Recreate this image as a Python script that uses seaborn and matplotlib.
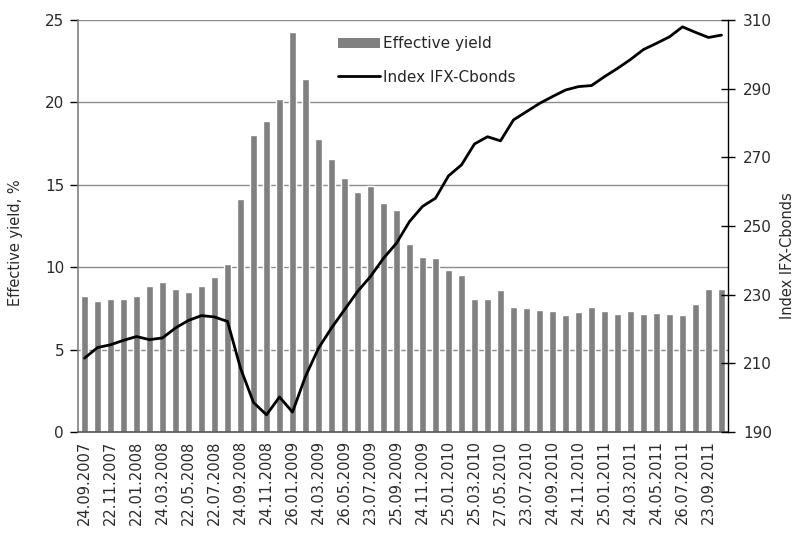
import numpy as np
import pandas as pd
import matplotlib
matplotlib.use("Agg")
import matplotlib.pyplot as plt
import seaborn as sns
from matplotlib.patches import Patch
from matplotlib.lines import Line2D

# Monthly observations, Sep 2007 - Oct 2011
effective_yield = [
    8.27, 7.92, 8.08, 8.08, 8.27, 8.87, 9.09, 8.69, 8.51, 8.87,
    9.38, 10.2, 14.15, 18.03, 18.88, 20.21, 24.27, 21.4, 17.79, 16.59,
    15.42, 14.57, 14.94, 13.92, 13.48, 11.38, 10.63, 10.55, 9.86, 9.52,
    8.08, 8.08, 8.59, 7.6, 7.5, 7.42, 7.32, 7.07, 7.26, 7.58,
    7.32, 7.15, 7.32, 7.15, 7.24, 7.15, 7.07, 7.76, 8.69, 8.69,
]
index_ifx = [
    211.5, 214.6, 215.4, 216.7, 217.8, 216.9, 217.4, 220.3, 222.5, 223.9,
    223.5, 222.2, 208.6, 198.6, 195.0, 200.2, 195.8, 206.2, 214.4, 220.3,
    225.6, 230.9, 235.3, 240.6, 245.0, 251.3, 255.7, 258.1, 264.6, 267.8,
    273.9, 276.0, 274.8, 280.9, 283.3, 285.7, 287.7, 289.6, 290.6, 290.9,
    293.5, 295.9, 298.5, 301.4, 303.2, 305.1, 308.0, 306.4, 304.9, 305.6,
]
# Date labels shown under every second bar
tick_labels = [
    "24.09.2007", "22.11.2007", "22.01.2008", "24.03.2008", "22.05.2008",
    "22.07.2008", "24.09.2008", "24.11.2008", "26.01.2009", "24.03.2009",
    "26.05.2009", "23.07.2009", "25.09.2009", "24.11.2009", "25.01.2010",
    "25.03.2010", "27.05.2010", "23.07.2010", "24.09.2010", "24.11.2010",
    "25.01.2011", "24.03.2011", "24.05.2011", "26.07.2011", "23.09.2011",
]

df = pd.DataFrame({
    "pos": np.arange(len(effective_yield)),
    "yield": effective_yield,
    "index": index_ifx,
})

sns.set_style("white")
plt.rcParams["font.family"] = ["DejaVu Sans"]

fig = plt.figure(figsize=(8, 5.33), dpi=100)
ax = fig.add_axes([0.0975, 0.1895, 0.8125, 0.773])

bar_col = "#808080"
text_col = "#2a2a2a"
sns.barplot(data=df, x="pos", y="yield", color=bar_col, width=0.55,
            saturation=1, ax=ax, zorder=2)
ax.set_xlim(-0.5, len(df) - 0.5)
ax.set_ylim(0, 25)
ax.set_yticks([0, 5, 10, 15, 20, 25])
ax.yaxis.grid(True, color="#8c8c8c", linewidth=1.0, zorder=0)
ax.set_axisbelow(True)

# category ticks at bar boundaries, labels on every second bar
ax.set_xticks(np.arange(0, len(df), 2))
ax.set_xticklabels(tick_labels, rotation=90, fontsize=10.5, color=text_col)
ax.set_xticks(np.arange(-0.5, len(df) + 0.5, 1), minor=True)
ax.tick_params(axis="x", which="major", length=0, pad=6)
ax.tick_params(axis="x", which="minor", length=10, direction="inout",
               width=1, color="black")
ax.tick_params(axis="y", length=6, direction="out", width=1, color="black",
               labelsize=11, labelcolor=text_col, pad=4)
ax.set_xlabel("")
ax.set_ylabel("")

for side in ["top", "right"]:
    ax.spines[side].set_visible(False)
ax.spines["left"].set_color("#808080")
ax.spines["left"].set_linewidth(1.2)
ax.spines["bottom"].set_color("#555555")
ax.spines["bottom"].set_linewidth(1.2)

ax2 = ax.twinx()
sns.lineplot(data=df, x="pos", y="index", color="black", linewidth=2.0,
             ax=ax2, zorder=3)
ax2.set_ylim(190, 310)
ax2.set_yticks([190, 210, 230, 250, 270, 290, 310])
ax2.set_xlim(-0.5, len(df) - 0.5)
ax2.set_ylabel("")
ax2.tick_params(axis="y", length=10, direction="inout", width=1,
                color="black", labelsize=11, labelcolor=text_col, pad=6)
for side in ["top", "left", "bottom"]:
    ax2.spines[side].set_visible(False)
ax2.spines["right"].set_color("black")
ax2.spines["right"].set_linewidth(1.0)

fig.text(0.02, 0.545, "Effective yield, %", rotation=90, ha="center",
         va="center", fontsize=10.5, color=text_col)
fig.text(0.984, 0.52, "Index IFX-Cbonds", rotation=90, ha="center",
         va="center", fontsize=10.5, color=text_col)

handles = [Patch(facecolor=bar_col, edgecolor="none", label="Effective yield"),
           Line2D([0], [0], color="black", linewidth=2.0, label="Index IFX-Cbonds")]
ax2.legend(handles=handles, loc="upper left", bbox_to_anchor=(0.39, 0.975),
           frameon=False, fontsize=11, handlelength=2.8, handletextpad=0.2,
           labelspacing=1.2, borderaxespad=0)

fig.savefig("out.png", dpi=100)
